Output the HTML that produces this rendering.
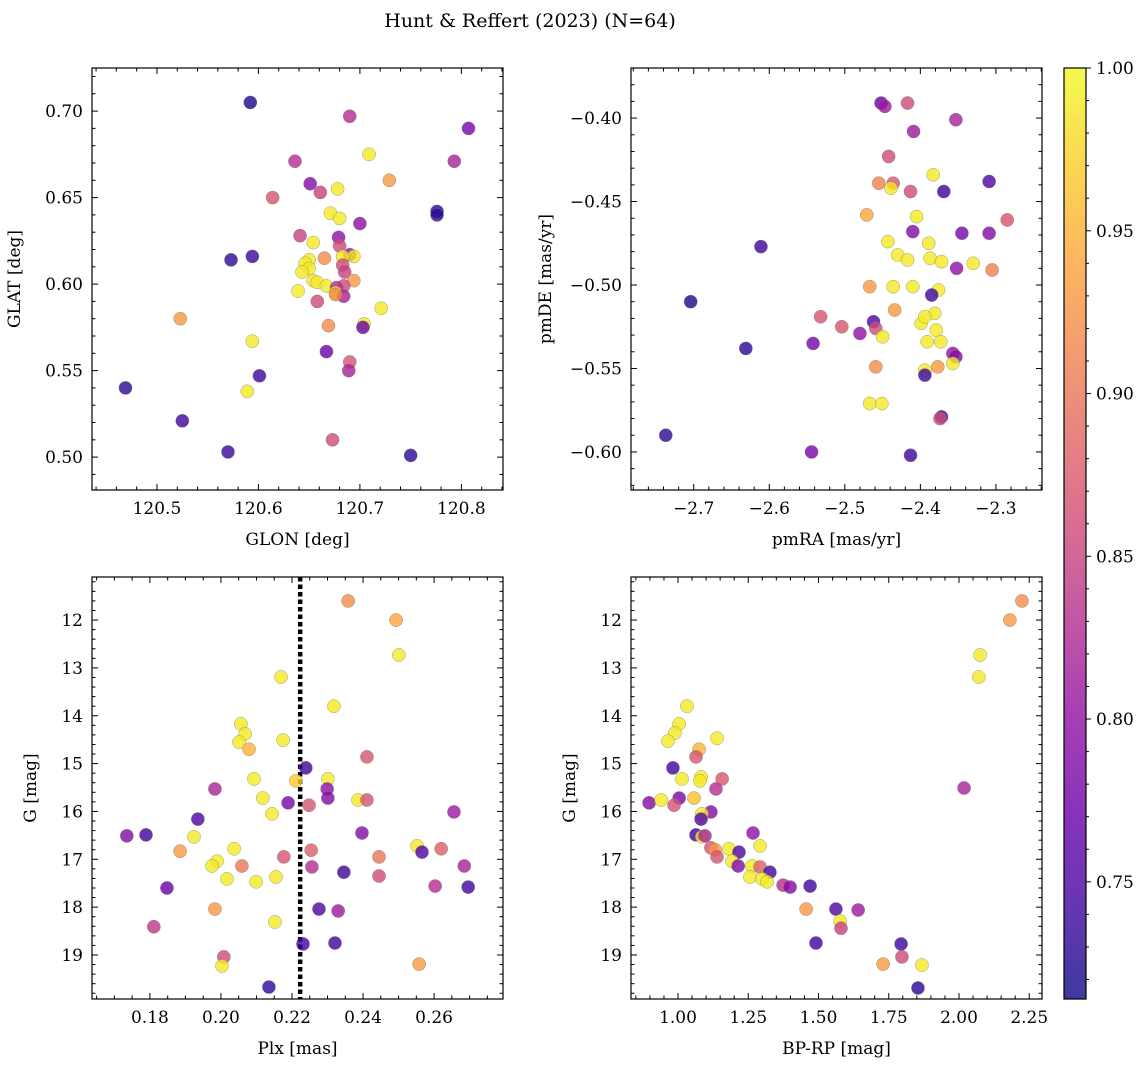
<!DOCTYPE html>
<html><head><meta charset="utf-8"><style>
body{margin:0;background:#fff;}
svg{display:block;font-family:"DejaVu Serif","Liberation Serif",serif;}
</style></head><body>
<svg id="fig" width="1148" height="1067" viewBox="0 0 1148 1067" xmlns="http://www.w3.org/2000/svg">
<text x="530" y="27" text-anchor="middle" font-size="19">Hunt &amp; Reffert (2023) (N=64)</text>
</svg>
<script>
// ---- Panel 1: GLON vs GLAT ----
const p1_glon=[120.592,120.690,120.807,120.709,120.636,120.793,120.729,120.651,120.678,120.661,120.614,120.776,120.776,120.671,120.680,120.700,120.641,120.679,120.654,120.680,120.690,120.694,120.665,120.683,120.594,120.573,120.650,120.646,120.683,120.650,120.685,120.643,120.654,120.658,120.667,120.694,120.684,120.677,120.676,120.639,120.684,120.676,120.658,120.704,120.703,120.721,120.669,120.523,120.594,120.667,120.690,120.689,120.601,120.469,120.589,120.525,120.673,120.570,120.750];
const p1_glat=[0.705,0.697,0.690,0.675,0.671,0.671,0.660,0.658,0.655,0.653,0.650,0.642,0.640,0.641,0.638,0.635,0.628,0.627,0.624,0.622,0.617,0.616,0.615,0.616,0.616,0.614,0.614,0.612,0.611,0.609,0.607,0.607,0.602,0.601,0.599,0.602,0.599,0.598,0.595,0.596,0.593,0.594,0.590,0.577,0.575,0.586,0.576,0.580,0.567,0.561,0.555,0.550,0.547,0.540,0.538,0.521,0.510,0.503,0.501];
const p1_prob=[0.72,0.83,0.78,0.99,0.83,0.82,0.93,0.79,0.99,0.85,0.87,0.73,0.73,0.99,0.99,0.80,0.85,0.80,0.99,0.86,0.80,0.99,0.92,0.99,0.74,0.73,0.99,0.99,0.86,0.99,0.85,0.99,0.99,0.99,0.99,0.93,0.86,0.83,0.99,0.99,0.82,0.92,0.86,0.99,0.77,0.99,0.92,0.93,0.99,0.77,0.87,0.82,0.74,0.73,0.99,0.74,0.86,0.74,0.73];
// ---- Panel 2: pmRA vs pmDE ----
const p2_pmra=[-2.452,-2.447,-2.417,-2.353,-2.409,-2.442,-2.383,-2.455,-2.436,-2.413,-2.369,-2.439,-2.309,-2.285,-2.471,-2.405,-2.410,-2.345,-2.443,-2.309,-2.389,-2.430,-2.417,-2.387,-2.372,-2.330,-2.352,-2.305,-2.611,-2.467,-2.436,-2.376,-2.410,-2.434,-2.385,-2.704,-2.381,-2.399,-2.394,-2.379,-2.391,-2.373,-2.532,-2.504,-2.462,-2.459,-2.480,-2.450,-2.542,-2.357,-2.353,-2.631,-2.377,-2.357,-2.394,-2.394,-2.459,-2.467,-2.451,-2.372,-2.374,-2.737,-2.544,-2.413];
const p2_pmde=[-0.391,-0.393,-0.391,-0.401,-0.408,-0.423,-0.434,-0.439,-0.439,-0.444,-0.444,-0.442,-0.438,-0.461,-0.458,-0.459,-0.468,-0.469,-0.474,-0.469,-0.475,-0.482,-0.485,-0.484,-0.486,-0.487,-0.490,-0.491,-0.477,-0.501,-0.501,-0.503,-0.501,-0.515,-0.506,-0.510,-0.517,-0.523,-0.519,-0.527,-0.534,-0.534,-0.519,-0.525,-0.522,-0.526,-0.529,-0.531,-0.535,-0.541,-0.543,-0.538,-0.549,-0.547,-0.551,-0.554,-0.549,-0.571,-0.571,-0.579,-0.580,-0.590,-0.600,-0.602];
const p2_prob=[0.77,0.81,0.86,0.82,0.81,0.86,0.99,0.91,0.87,0.86,0.74,0.99,0.75,0.87,0.94,0.99,0.79,0.78,0.99,0.79,0.99,0.99,0.99,0.99,0.99,0.99,0.80,0.91,0.74,0.93,0.99,0.99,0.99,0.93,0.74,0.72,0.99,0.99,0.99,0.99,0.99,0.99,0.87,0.87,0.75,0.86,0.80,0.99,0.78,0.80,0.79,0.73,0.93,0.99,0.99,0.74,0.92,0.99,0.99,0.74,0.86,0.73,0.78,0.74];
// ---- Panel 3: Plx vs G ----
const p3_plx=[0.2358,0.2493,0.2501,0.2169,0.2318,0.2056,0.2068,0.2051,0.2079,0.2175,0.2411,0.2239,0.2093,0.2211,0.2301,0.1983,0.2299,0.2301,0.2118,0.2189,0.2248,0.2386,0.2411,0.2144,0.2656,0.1935,0.1735,0.1789,0.1924,0.2397,0.1885,0.2037,0.1989,0.1975,0.2059,0.2177,0.2254,0.2256,0.2346,0.2445,0.2445,0.2552,0.2566,0.2620,0.2685,0.2603,0.2696,0.1848,0.2017,0.2099,0.2155,0.1983,0.2276,0.2330,0.1811,0.2152,0.2231,0.2321,0.2008,0.2003,0.2558,0.2135];
const p3_g=[11.60,12.00,12.73,13.19,13.80,14.17,14.38,14.55,14.70,14.51,14.86,15.09,15.32,15.36,15.32,15.53,15.53,15.72,15.72,15.82,15.87,15.76,15.76,16.05,16.01,16.16,16.51,16.49,16.53,16.45,16.83,16.78,17.04,17.14,17.14,16.95,16.81,17.16,17.27,16.95,17.35,16.72,16.85,16.78,17.14,17.56,17.58,17.60,17.41,17.47,17.37,18.04,18.04,18.08,18.41,18.31,18.77,18.75,19.04,19.23,19.19,19.67];
const p3_prob=[0.92,0.94,0.99,0.99,0.99,0.99,0.99,0.99,0.95,0.99,0.87,0.74,0.99,0.97,0.99,0.82,0.80,0.79,0.99,0.78,0.87,0.99,0.87,0.99,0.81,0.75,0.79,0.74,0.99,0.79,0.93,0.99,0.99,0.99,0.90,0.87,0.88,0.83,0.74,0.90,0.86,0.99,0.75,0.88,0.82,0.83,0.74,0.77,0.99,0.99,0.99,0.93,0.75,0.81,0.84,0.99,0.74,0.74,0.86,0.99,0.93,0.73];
// ---- Panel 4: BP-RP vs G ----
const p4_bprp=[2.224,2.181,2.075,2.071,1.032,1.004,0.989,0.964,1.139,1.075,1.064,0.982,2.018,1.014,1.082,1.078,1.157,1.135,0.897,0.940,1.004,0.986,1.057,1.117,1.085,1.082,1.064,1.085,1.096,1.267,1.292,1.117,1.132,1.139,1.181,1.217,1.192,1.214,1.263,1.292,1.327,1.256,1.299,1.317,1.374,1.399,1.470,1.456,1.562,1.641,1.577,1.580,1.491,1.794,1.797,1.730,1.868,1.854];
const p4_g=[11.60,12.00,12.73,13.19,13.80,14.17,14.36,14.53,14.47,14.70,14.86,15.09,15.51,15.32,15.28,15.36,15.32,15.53,15.82,15.76,15.72,15.87,15.72,16.01,16.05,16.16,16.49,16.53,16.51,16.45,16.72,16.76,16.80,16.95,16.78,16.85,17.04,17.14,17.14,17.16,17.27,17.37,17.41,17.47,17.54,17.58,17.56,18.04,18.04,18.06,18.29,18.44,18.75,18.77,19.04,19.19,19.21,19.69];
const p4_prob=[0.92,0.93,0.99,0.99,0.99,0.99,0.99,0.99,0.99,0.95,0.87,0.74,0.82,0.99,0.99,0.99,0.87,0.83,0.79,0.99,0.78,0.87,0.96,0.79,0.99,0.75,0.74,0.99,0.82,0.80,0.99,0.87,0.93,0.87,0.99,0.75,0.99,0.79,0.99,0.88,0.74,0.99,0.99,0.99,0.83,0.79,0.74,0.93,0.75,0.81,0.99,0.85,0.74,0.74,0.86,0.93,0.99,0.73];
const cbTicks=[0.75,0.80,0.85,0.90,0.95,1.00];
const plxCut=0.2223;

const NS="http://www.w3.org/2000/svg";
const svg=document.getElementById('fig');
function mk(tag,attrs,parent){const e=document.createElementNS(NS,tag);for(const k in attrs)e.setAttribute(k,attrs[k]);(parent||svg).appendChild(e);return e;}
const VMIN=0.714,VMAX=1.0;
const stops=[[13,8,135],[65,4,157],[106,0,168],[143,13,164],[177,42,144],[204,71,120],[225,100,98],[242,132,75],[252,166,54],[252,206,37],[240,249,33]];
function plasma(v){let t=(v-VMIN)/(VMAX-VMIN);t=Math.max(0,Math.min(1,t));const f=t*10,i=Math.min(9,Math.floor(f)),u=f-i;const a=stops[i],b=stops[i+1];return `rgb(${a.map((c,k)=>Math.round(c+(b[k]-c)*u)).join(',')})`;}
function fmt(v,d){return (v<0?'\u2212':'')+Math.abs(v).toFixed(d);}
const FS=17;

function panel(o){
  const sx=v=>o.x0+(v-o.xmin)/(o.xmax-o.xmin)*(o.x1-o.x0);
  const sy=v=>o.y1-(v-o.ymin)/(o.ymax-o.ymin)*(o.y1-o.y0);
  const g=mk('g',{});
  
  
  if(o.extra)o.extra(g,sx,sy);
  for(let i=0;i<o.xs.length;i++){
    const c=mk('circle',{cx:sx(o.xs[i]),cy:sy(o.ys[i]),r:6.6,fill:plasma(o.cs[i]),'fill-opacity':0.8,stroke:'#777','stroke-width':0.5,'stroke-opacity':0.7},g);
    
    
  }
  const fr=mk('rect',{x:o.x0,y:o.y0,width:o.x1-o.x0,height:o.y1-o.y0,fill:'none',stroke:'#000','stroke-width':1.2},g);
  
  
  const eps=1e-9;
  for(let k=Math.ceil(o.xmin/o.xminor-eps);k*o.xminor<=o.xmax+eps;k++){
    const v=k*o.xminor;
    const x=sx(v);const maj=Math.abs(v/o.xmajor-Math.round(v/o.xmajor))<1e-6;const L=maj?6:3.5;
    mk('line',{x1:x,x2:x,y1:o.y1,y2:o.y1-L,stroke:'#000','stroke-width':1},g);
    mk('line',{x1:x,x2:x,y1:o.y0,y2:o.y0+L,stroke:'#000','stroke-width':1},g);
    if(maj){const t=mk('text',{x:x,y:o.y1+24,'text-anchor':'middle','font-size':FS},g);t.textContent=fmt(v,o.xd);
      }
  }
  for(let k=Math.ceil(o.ymin/o.yminor-eps);k*o.yminor<=o.ymax+eps;k++){
    const v=k*o.yminor;
    const y=sy(v);const maj=Math.abs(v/o.ymajor-Math.round(v/o.ymajor))<1e-6;const L=maj?6:3.5;
    mk('line',{x1:o.x0,x2:o.x0+L,y1:y,y2:y,stroke:'#000','stroke-width':1},g);
    mk('line',{x1:o.x1,x2:o.x1-L,y1:y,y2:y,stroke:'#000','stroke-width':1},g);
    if(maj){const t=mk('text',{x:o.x0-9,y:y+6,'text-anchor':'end','font-size':FS},g);t.textContent=o.yneg?fmt(-v,o.yd):fmt(v,o.yd);
      }
  }
  const xl=mk('text',{x:(o.x0+o.x1)/2,y:o.y1+55,'text-anchor':'middle','font-size':17},g);xl.textContent=o.xlabel;
  
  const yx=o.x0-o.ylabOff,yy=(o.y0+o.y1)/2;
  const yl=mk('text',{x:yx,y:yy,'text-anchor':'middle','font-size':17,transform:`rotate(-90 ${yx} ${yy})`},g);yl.textContent=o.ylabel;
  
}
panel({name:'glon-glat-panel',x0:92,x1:503,y0:68,y1:490,xmin:120.436,xmax:120.841,ymin:0.481,ymax:0.7249,
 xmajor:0.1,xminor:0.02,ymajor:0.05,yminor:0.01,xd:1,yd:2,xs:p1_glon,ys:p1_glat,cs:p1_prob,xlabel:'GLON [deg]',ylabel:'GLAT [deg]',ylabOff:72});
panel({name:'proper-motion-panel',x0:631,x1:1042,y0:68,y1:490,xmin:-2.783,xmax:-2.239,ymin:-0.6228,ymax:-0.370,
 xmajor:0.1,xminor:0.02,ymajor:0.05,yminor:0.01,xd:1,yd:2,xs:p2_pmra,ys:p2_pmde,cs:p2_prob,xlabel:'pmRA [mas/yr]',ylabel:'pmDE [mas/yr]',ylabOff:80});
panel({name:'parallax-mag-panel',x0:92,x1:503,y0:577,y1:999,xmin:0.1637,xmax:0.2794,ymin:-19.92,ymax:-11.10,yneg:true,
 xmajor:0.02,xminor:0.005,ymajor:1,yminor:0.2,xd:2,yd:0,xs:p3_plx,ys:p3_g.map(v=>-v),cs:p3_prob,xlabel:'Plx [mas]',ylabel:'G [mag]',ylabOff:56,
 extra:(g,sx,sy)=>{const l=mk('line',{x1:sx(plxCut),x2:sx(plxCut),y1:577,y2:999,stroke:'#000','stroke-width':4.5,'stroke-dasharray':'4.5 3'},g);
   }});
panel({name:'cmd-panel',x0:631,x1:1042,y0:577,y1:999,xmin:0.8327,xmax:2.2954,ymin:-19.92,ymax:-11.10,yneg:true,
 xmajor:0.25,xminor:0.05,ymajor:1,yminor:0.2,xd:2,yd:0,xs:p4_bprp,ys:p4_g.map(v=>-v),cs:p4_prob,xlabel:'BP-RP [mag]',ylabel:'G [mag]',ylabOff:56});
(function(){
  const x0=1064,x1=1086,y0=68,y1=999;
  const g=mk('g',{});
  
  
  const defs=mk('defs',{},g);
  const lg=mk('linearGradient',{id:'cbg',x1:0,y1:1,x2:0,y2:0},defs);
  for(let i=0;i<=20;i++){const v=VMIN+(VMAX-VMIN)*i/20;mk('stop',{offset:i/20,'stop-color':plasma(v),'stop-opacity':0.8},lg);}
  mk('rect',{x:x0,y:y0,width:x1-x0,height:y1-y0,fill:'url(#cbg)',stroke:'#000','stroke-width':1.2},g);
  const sy=v=>y1-(v-VMIN)/(VMAX-VMIN)*(y1-y0);
  for(let k=72;k<=100;k++){const v=k/100;const y=sy(v);const maj=k%5===0;
    mk('line',{x1:x1,x2:x1+(maj?5:3),y1:y,y2:y,stroke:'#000','stroke-width':1},g);}
  cbTicks.forEach(v=>{const t=mk('text',{x:x1+10,y:sy(v)+6,'font-size':FS},g);t.textContent=v.toFixed(2);
    });
})();
</script>
</body></html>
